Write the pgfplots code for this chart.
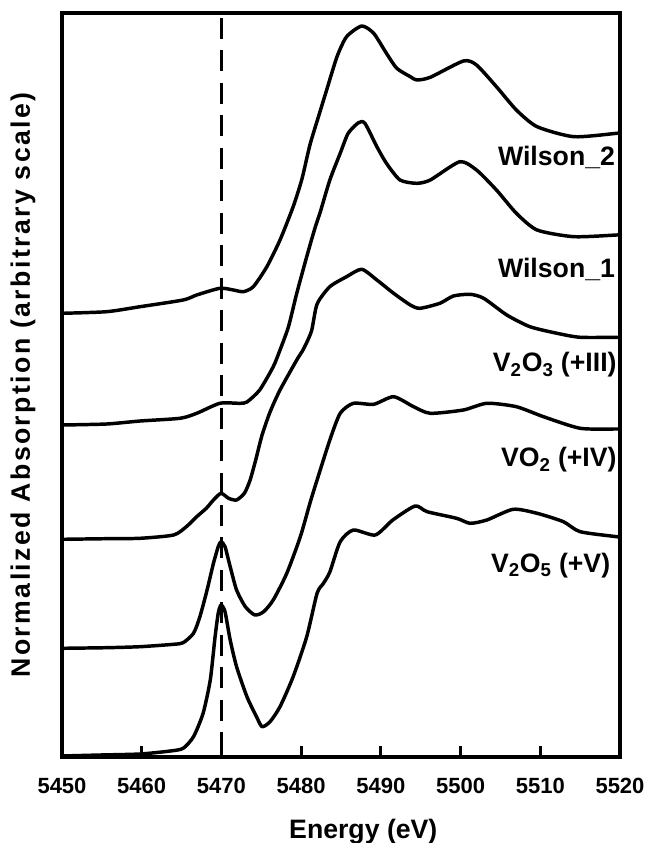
\documentclass[border=0pt]{standalone}
\usepackage{fontspec}
\setmainfont{Liberation Sans}
\newfontfamily\ylabfont[LetterSpace=9]{Liberation Sans}
\usepackage{pgfplots}
\pgfplotsset{compat=1.18}
\begin{document}
\begin{tikzpicture}
\begin{axis}[
  at={(0,0)}, anchor=south west,
  scale only axis, width=418.5pt, height=558pt,
  xmin=5450, xmax=5520, ymin=0, ymax=744,
  xtick={5450,5460,...,5520},
  ytick=\empty,
  xtick pos=bottom, tick align=inside,
  major tick length=8.25pt,
  tick style={black, line width=2.4pt},
  axis line style={line width=3pt, line cap=rect},
  xticklabel style={font=\fontsize{16.5}{18}\selectfont\bfseries, anchor=base, yshift=-27pt},
  /pgf/number format/assume math mode=true,
  /pgf/number format/1000 sep={},
  xlabel={Energy (eV)},
  xlabel style={at={(axis description cs:0.54,-0.1089)}, anchor=base, font=\fontsize{20}{24}\selectfont\bfseries, inner sep=0pt},
  ylabel={Normalized Absorption (arbitrary scale)},
  ylabel style={at={(axis description cs:-0.0699,0.5)}, anchor=center, font=\ylabfont\fontsize{20}{24}\selectfont\bfseries, inner sep=0pt},
  clip=false,
  every axis plot/.append style={black, line width=2.6pt, line join=round},
]
% dashed reference line
\addplot[dash pattern=on 15.75pt off 8.6pt, line width=2.7pt] coordinates {(5470,739) (5470,0)};
% V2O5
\addplot[smooth, tension=0.4] coordinates {
(5450,1) (5454.8,2) (5459.8,3) (5463.6,6) (5465.2,8.7) (5466.5,20.3) (5467.7,43.7) (5468.6,77) (5469.2,120) (5469.6,143.7) (5469.95,152) (5470.45,145.3) (5471.1,117) (5471.9,90.3) (5473.2,60.3) (5474.4,40.3) (5475.1,30.3) (5476.1,35.3) (5477.35,50.3) (5479,80.3) (5480.7,120.3) (5482,163.7) (5482.8,173.7) (5483.6,185) (5484.9,215.3) (5486.55,227) (5489.3,222) (5491.5,237) (5494.3,251) (5495.8,245.3) (5499.5,238.7) (5501.2,233.7) (5503.3,237) (5506.6,247.7) (5509.6,243.7) (5512.9,235.3) (5515,225.3) (5519.6,220.3) (5520,220)
};
% VO2
\addplot[smooth, tension=0.4] coordinates {
(5450,108.7) (5455.6,109.3) (5459.8,110.3) (5464,112.7) (5465.2,114.3) (5466.5,123.7) (5467.3,140.3) (5468.2,167) (5469,193.7) (5469.6,210.3) (5469.95,215.3) (5470.45,210.3) (5471.1,190.3) (5471.9,167) (5473,150.3) (5474.2,142) (5475.3,145.3) (5476.5,157) (5478.2,183.7) (5479.9,220.3) (5481.1,253.7) (5482,277) (5483.6,317) (5484.9,343.7) (5486.55,353.7) (5489.1,352.7) (5491.6,360.3) (5494.1,350.3) (5496.2,343.7) (5500.35,347) (5503.3,353.7) (5507,350.3) (5510.4,340.3) (5515,328.7) (5519.6,328) (5520,328)
};
% V2O3
\addplot[smooth, tension=0.4] coordinates {
(5450,217.7) (5455.6,218.3) (5459.8,218.7) (5464,222) (5465.6,230.3) (5466.9,240.3) (5468.1,248.7) (5469,257) (5469.95,263.7) (5470.9,258.7) (5471.9,257) (5472.9,264) (5473.6,277) (5474.3,297) (5475.1,322) (5476.1,345) (5477.35,367) (5479.45,397) (5480.3,408) (5481.3,426) (5482,453) (5483.6,470.3) (5485.7,480.3) (5487.6,487.7) (5489.5,477) (5491.6,463.7) (5493.7,452) (5494.9,448.7) (5497.4,453.7) (5499.1,461) (5501.2,462.7) (5502.9,458.7) (5505.8,442) (5508.7,430.3) (5512.1,423.7) (5515,419.7) (5519.6,419.7) (5520,419.7)
};
% Wilson_1
\addplot[smooth, tension=0.4] coordinates {
(5450,332) (5455.6,333) (5459.8,336) (5464.8,338.7) (5466.9,343.7) (5469.8,353.7) (5472.3,353.7) (5473.2,355) (5474.8,367) (5476.5,390.3) (5477.35,407) (5478.4,430) (5479.45,463.7) (5480.7,500.3) (5481.7,528) (5482.4,545) (5483.6,577) (5484.9,603.7) (5485.9,623.7) (5487.2,634.3) (5488,633.7) (5489.5,610.3) (5490.7,593.7) (5492.4,577) (5494.5,573.7) (5496.2,577) (5499.9,595.3) (5502,587) (5504.5,567) (5507,543.7) (5509.6,527) (5514.2,520.3) (5519.6,522) (5520,522)
};
% Wilson_2
\addplot[smooth, tension=0.4] coordinates {
(5450,443.7) (5455.6,445.3) (5459.8,450.3) (5465.2,457) (5466.9,462) (5469.8,468.7) (5471.5,467) (5472.75,465.3) (5474,470.3) (5475.7,490.3) (5477.35,517) (5479,550.3) (5480.1,578) (5481.1,612) (5482.2,641) (5483.2,667) (5484.5,700.3) (5485.7,720.3) (5487.6,731) (5489.1,723.7) (5490.7,703.7) (5492,688.7) (5493.7,680.3) (5494.5,677) (5496.2,679.7) (5500.35,696) (5502,692) (5504.5,670.3) (5507,647) (5509.6,630.3) (5514.2,620.3) (5519.6,623.7) (5520,624)
};
\node[anchor=base east, inner sep=0pt, font=\fontsize{20}{24}\selectfont\bfseries] at (axis cs:5519.4,591) {Wilson\_2};
\node[anchor=base east, inner sep=0pt, font=\fontsize{20}{24}\selectfont\bfseries] at (axis cs:5519.4,479) {Wilson\_1};
\node[anchor=base east, inner sep=0pt, font=\fontsize{20}{24}\selectfont\bfseries] at (axis cs:5519.6,385) {V\textsubscript{2}O\textsubscript{3} (+III)};
\node[anchor=base east, inner sep=0pt, font=\fontsize{20}{24}\selectfont\bfseries] at (axis cs:5519.6,290) {VO\textsubscript{2} (+IV)};
\node[anchor=base east, inner sep=0pt, font=\fontsize{20}{24}\selectfont\bfseries] at (axis cs:5518.8,185) {V\textsubscript{2}O\textsubscript{5} (+V)};
\end{axis}
\pgfresetboundingbox
\path[use as bounding box] (-46.5pt,-64.5pt) rectangle (438.75pt,567.75pt);
\end{tikzpicture}
\end{document}
